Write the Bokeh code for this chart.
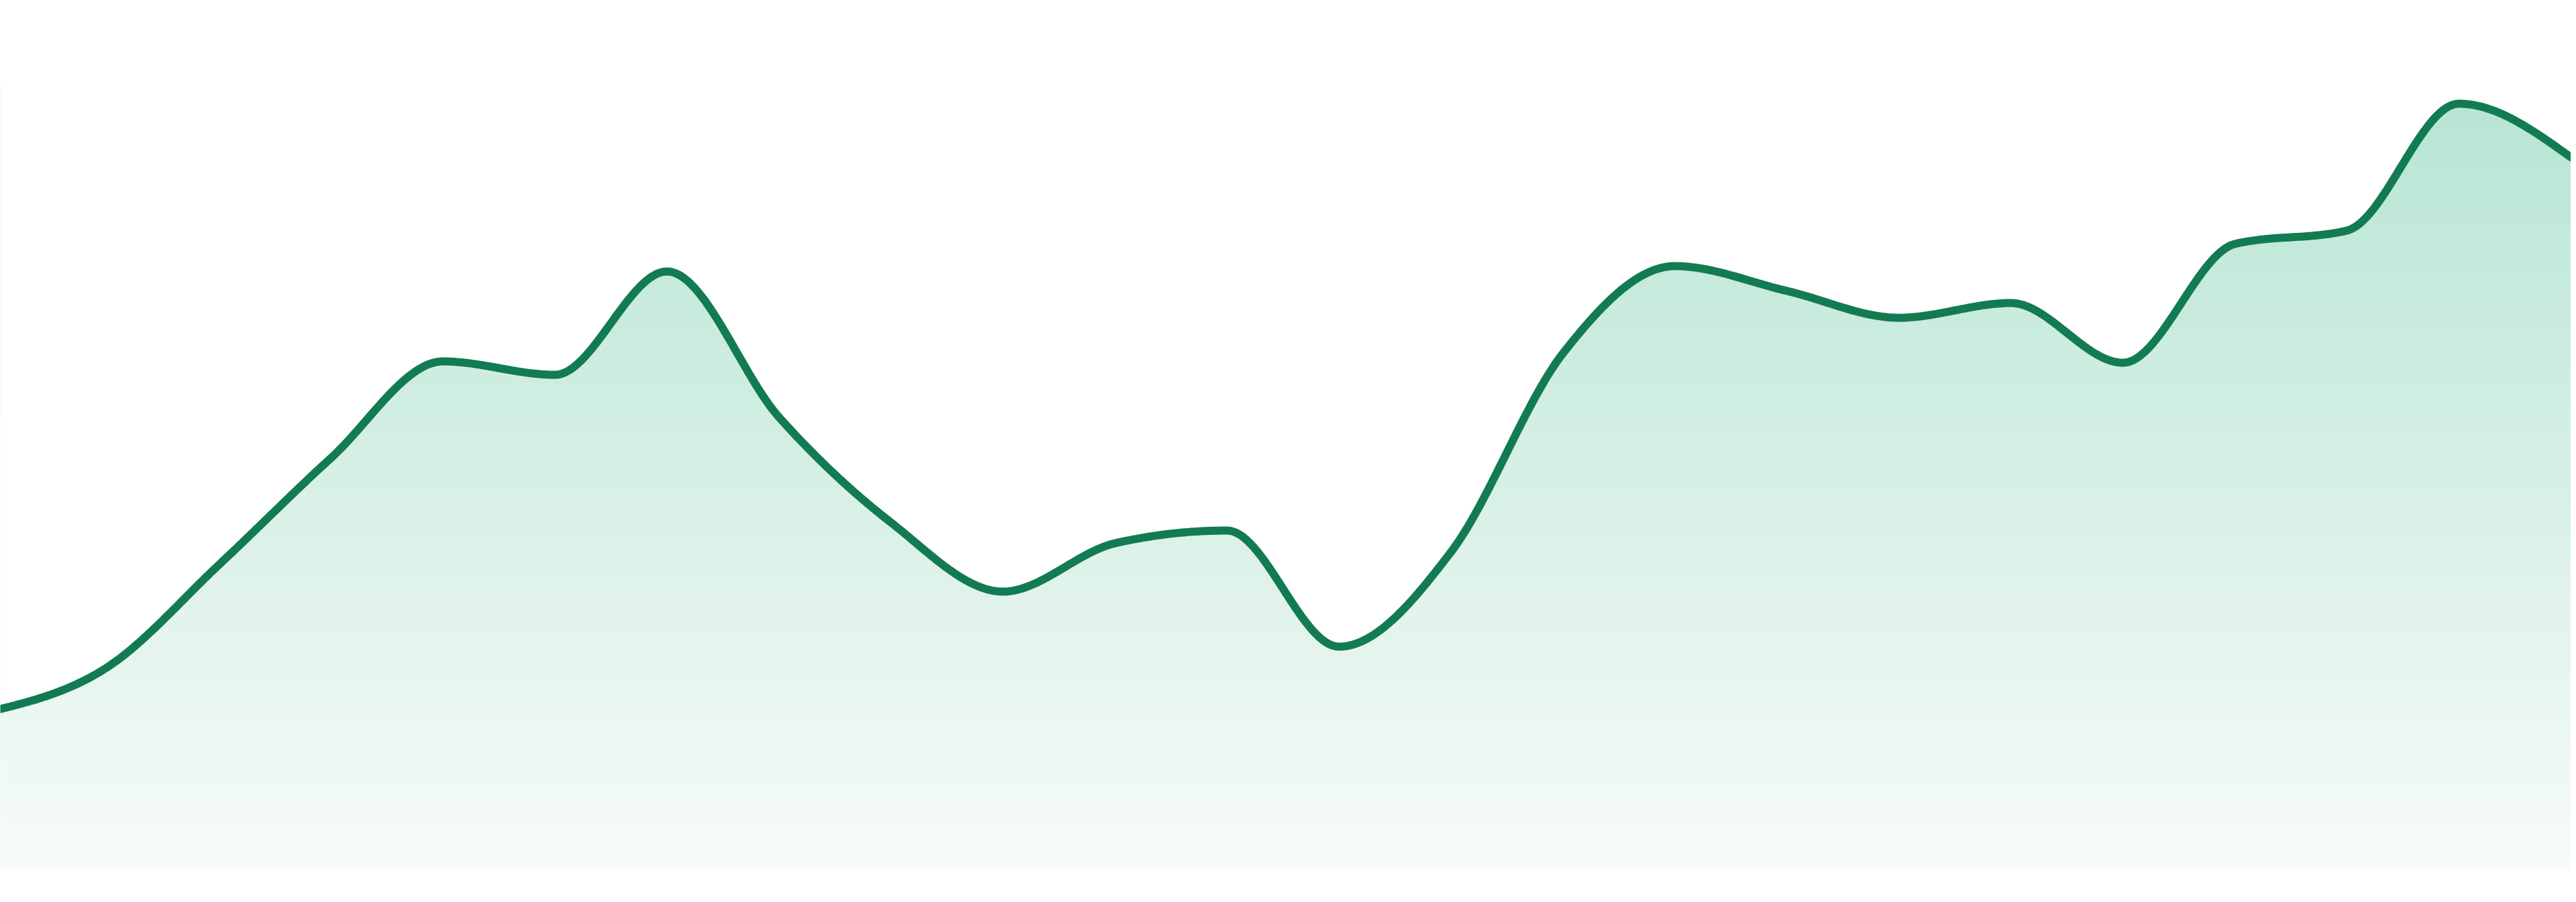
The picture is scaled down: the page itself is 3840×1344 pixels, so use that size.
import numpy as np
from bokeh.plotting import figure
from bokeh.models import Range1d
from bokeh.embed import file_html
from bokeh.resources import INLINE

# ---- data ----
positions = list(range(24))
values = [23.9, 30.3, 45.6, 61.5, 75.9, 73.9, 89.3, 67.6, 51.9, 41.6, 48.8, 50.7,
          33.4, 47.5, 77.1, 90.1, 86.4, 82.4, 84.6, 75.7, 93.4, 95.4, 114.3, 106.3]

# ---- style ----
LINE_COLOR = "#137b51"
TOP_RGB = (183, 229, 211)      # fill colour at value GRAD_TOP
BOTTOM_RGB = (247, 251, 249)   # fill colour at value 0
GRAD_TOP = 115.0

W, H = 3832, 1320
PX_PER_STEP = 3840 / 23
x_start = 8 / PX_PER_STEP
x_end = x_start + W / PX_PER_STEP
y_start, y_end = -2.3, 129.7


def monotone_x(xs, ys, n=48):
    """d3.curveMonotoneX rendering of the series (Hermite sampling)."""
    xs = np.asarray(xs, float)
    ys = np.asarray(ys, float)
    h = np.diff(xs)
    s = np.diff(ys) / h
    m = len(xs)
    t = np.zeros(m)
    for i in range(1, m - 1):
        s0, s1 = s[i - 1], s[i]
        p = (s0 * h[i] + s1 * h[i - 1]) / (h[i - 1] + h[i])
        t[i] = (np.sign(s0) + np.sign(s1)) * min(abs(s0), abs(s1), 0.5 * abs(p))
    t[0] = (3 * s[0] - t[1]) / 2
    t[-1] = (3 * s[-1] - t[-2]) / 2
    outx, outy = [], []
    for i in range(m - 1):
        u = np.linspace(0, 1, n, endpoint=(i == m - 2))
        h00 = 2 * u**3 - 3 * u**2 + 1
        h10 = u**3 - 2 * u**2 + u
        h01 = -2 * u**3 + 3 * u**2
        h11 = u**3 - u**2
        outx.extend(xs[i] + u * h[i])
        outy.extend(h00 * ys[i] + h10 * h[i] * t[i] + h01 * ys[i + 1] + h11 * h[i] * t[i + 1])
    return list(outx), list(outy)


cx, cy = monotone_x(positions, values)

p = figure(width=W, height=H, output_backend="svg", toolbar_location=None,
           x_range=Range1d(x_start, x_end), y_range=Range1d(y_start, y_end),
           x_axis_location=None, y_axis_location=None, min_border=0,
           background_fill_color="white", border_fill_color="white",
           outline_line_color=None)
p.grid.visible = False

# vertical gradient as an image, then a white mask above the curve
rows, cols = 700, 2
img = np.empty((rows, cols), dtype=np.uint32)
view = img.view(dtype=np.uint8).reshape((rows, cols, 4))
ytop_img = max(values) + 3
vals = np.linspace(0, ytop_img, rows)
frac = np.clip(vals / GRAD_TOP, 0, 1.2)
for k in range(3):
    ch = BOTTOM_RGB[k] + (TOP_RGB[k] - BOTTOM_RGB[k]) * frac
    view[:, :, k] = np.clip(np.round(ch), 0, 255).astype(np.uint8)[:, None]
view[:, :, 3] = 255
p.image_rgba(image=[img], x=x_start - 1, y=0, dw=(x_end - x_start) + 2, dh=ytop_img)

mask_x = [x_start - 1] + cx + [x_end + 1, x_end + 1, x_start - 1, x_start - 1]
mask_y = [cy[0]] + cy + [cy[-1], y_end + 20, y_end + 20, cy[0]]
p.patch(mask_x, mask_y, fill_color="white", line_color=None)

p.line(cx, cy, line_color=LINE_COLOR, line_width=12, line_join="round", line_cap="round")

open("out.html", "w").write(file_html(p, INLINE))
